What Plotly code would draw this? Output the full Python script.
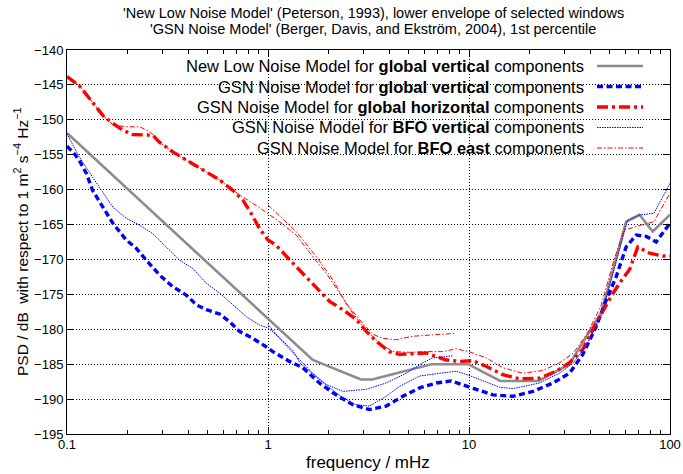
import plotly.graph_objects as go

# ---------------------------------------------------------------------------
# Data: frequency in mHz, PSD in dB rel. 1 m^2 s^-4 Hz^-1
# ---------------------------------------------------------------------------
nlnm_freq = [0.1, 1.67, 2.9, 3.3, 6.5, 9.9, 14.3, 22.2, 31.6, 45.7, 60.5, 70.5, 82.0, 100.0]
nlnm_psd = [-151.9, -184.4, -187.2, -187.2, -185.0, -185.0, -187.4, -187.4, -185.0,
            -177.5, -164.6, -163.6, -166.0, -163.6]

gsn_z_freq = [0.1, 0.107, 0.115, 0.125, 0.134, 0.151, 0.169, 0.197, 0.221, 0.248, 0.288,
              0.336, 0.392, 0.44, 0.493, 0.574, 0.643, 0.721, 0.839, 0.979, 1.057, 1.279,
              1.489, 1.803, 2.183, 2.642, 3.2, 3.87, 4.69, 5.68, 6.87, 8.15, 9.31, 10.86,
              13.15, 16.52, 20.8, 26.12, 31.62, 36.81, 42.95, 48.19, 53.95, 60.53, 67.92,
              76.21, 85.31, 100.0]
gsn_z_psd = [-153.8, -154.6, -155.8, -157.7, -160.1, -162.5, -164.8, -167.2, -168.4, -170.1,
             -172.2, -173.9, -175.1, -176.5, -177.2, -177.8, -178.9, -180.3, -181.3, -182.5,
             -183.2, -184.6, -185.5, -187.7, -189.4, -190.8, -191.5, -191.0, -189.6, -188.4,
             -187.7, -187.4, -187.9, -188.6, -189.4, -189.6, -188.9, -187.7, -186.3, -183.6,
             -179.6, -175.8, -172.5, -168.2, -166.5, -166.7, -167.5, -164.8]

gsn_h_freq = [0.1, 0.115, 0.134, 0.151, 0.169, 0.19, 0.212, 0.243, 0.267, 0.288, 0.336,
              0.406, 0.474, 0.574, 0.668, 0.75, 0.824, 0.908, 1.0, 1.1, 1.327, 1.549, 1.803,
              2.023, 2.355, 2.748, 3.083, 3.45, 4.018, 4.508, 5.248, 6.124, 6.87, 7.7, 8.97,
              10.45, 12.16, 14.72, 17.82, 22.44, 27.16, 31.62, 36.81, 42.95, 50.9, 56.1, 63.0,
              69.2, 79.1, 92.1, 100.0]
gsn_h_psd = [-143.8, -145.1, -147.5, -149.4, -150.5, -151.5, -152.1, -152.2, -152.2, -153.2,
             -154.6, -156.0, -157.2, -158.6, -160.1, -161.5, -163.4, -165.6, -167.2, -168.0,
             -170.5, -172.5, -174.6, -176.0, -177.2, -178.6, -180.3, -181.7, -183.2, -183.6,
             -183.5, -183.4, -183.9, -184.4, -184.6, -184.5, -185.3, -186.5, -187.1, -187.0,
             -186.0, -184.8, -182.9, -179.1, -175.3, -173.4, -171.4, -168.2, -169.1, -169.5,
             -169.5]

bfo_z_freq = [0.1, 0.115, 0.134, 0.151, 0.169, 0.197, 0.23, 0.267, 0.312, 0.363, 0.423,
              0.493, 0.574, 0.668, 0.78, 0.908, 1.0, 1.119, 1.327, 1.44, 1.8, 2.3, 2.73, 3.2,
              3.87, 4.5, 5.68, 7.13, 8.64, 10.0, 12.2, 14.2, 16.5, 22.4, 28.2, 33.1, 38.9,
              45.3, 52.6, 61.4, 71.5, 83.1, 100.0]
bfo_z_psd = [-152.0, -155.3, -158.2, -160.5, -162.5, -164.1, -165.1, -166.3, -168.2, -170.1,
             -171.3, -173.4, -174.8, -176.5, -178.2, -179.4, -179.8, -181.0, -183.0, -184.8,
             -187.2, -189.6, -190.8, -191.0, -189.6, -188.2, -186.7, -186.3, -186.0, -186.6,
             -187.6, -188.3, -188.5, -187.7, -186.3, -184.8, -182.0, -178.2, -171.5, -164.4,
             -163.6, -163.4, -159.1]

bfo_z2_freq = [1.0, 1.2, 1.44, 1.67, 1.95, 2.36, 3.08, 3.87, 4.87, 5.89, 6.61, 8.3]
bfo_z2_psd = [-179.3, -182.0, -184.4, -186.3, -187.9, -188.9, -188.6, -187.7, -186.3,
              -184.8, -184.1, -183.8]

bfo_e_freq = [0.1, 0.115, 0.134, 0.151, 0.169, 0.197, 0.23, 0.258, 0.278, 0.288, 0.336,
              0.406, 0.474, 0.574, 0.668, 0.75, 0.908, 1.14, 1.38, 1.67, 1.95, 2.27, 2.64,
              3.08, 3.59, 4.18, 5.06, 6.12, 7.41, 8.63, 10.0, 12.2, 14.7, 18.5, 23.3, 28.2,
              33.1, 38.9, 45.3, 52.6, 59.1, 71.5, 83.1, 100.0]
bfo_e_psd = [-143.8, -145.1, -147.5, -149.4, -150.7, -151.0, -151.0, -151.7, -152.5, -153.2,
             -154.6, -156.0, -157.2, -158.6, -160.1, -161.0, -162.6, -164.6, -166.5, -169.6,
             -172.0, -174.8, -177.7, -180.1, -182.0, -183.2, -183.3, -183.2, -183.2, -182.8,
             -183.2, -184.1, -185.5, -186.3, -185.9, -184.8, -183.4, -180.5, -176.7, -170.1,
             -165.8, -165.1, -164.6, -160.5]

bfo_e2_freq = [1.0, 1.38, 1.74, 2.1, 2.45, 2.85, 3.32, 3.72, 4.35, 5.25, 6.6, 8.47]
bfo_e2_psd = [-162.2, -166.0, -169.6, -172.9, -176.3, -178.6, -180.7, -181.3, -181.5, -181.0,
              -180.8, -180.6]

x_tick_vals = [0.1, 1, 10, 100]
x_tick_text = ["0.1", "1", "10", "100"]
x_minor_vals = [m * d for d in (0.1, 1, 10) for m in range(2, 10)]
y_tick_vals = list(range(-195, -139, 5))

legend_labels = [
    "New Low Noise Model for <b>global vertical</b> components",
    "GSN Noise Model for <b>global vertical</b> components",
    "GSN Noise Model for <b>global horizontal</b> components",
    "GSN Noise Model for <b>BFO vertical</b> components",
    "GSN Noise Model for <b>BFO east</b> components",
]

# ---------------------------------------------------------------------------
# Styles
# ---------------------------------------------------------------------------
FONT = "Liberation Sans, Arial, Helvetica, sans-serif"
GRAY, BLUE, RED = "#8c8c8c", "#0000ff", "#ff0000"
styles = [
    dict(color=GRAY, width=2.6, dash="solid"),
    dict(color=BLUE, width=3.4, dash="6px,3.5px"),
    dict(color=RED, width=3.4, dash="11px,4px,3px,4px"),
    dict(color=BLUE, width=1.0, dash="1.5px,1px"),
    dict(color=RED, width=1.0, dash="5px,2px,1.5px,2px"),
]

W, H = 683, 474
ML, MR, MT, MB = 67, 13, 50, 40
PW, PH = W - ML - MR, H - MT - MB


def px(x):
    return (x - ML) / PW


def py(y):
    return 1 - (y - MT) / PH


fig = go.Figure()

series = [
    (nlnm_freq, nlnm_psd, 0),
    (gsn_z_freq, gsn_z_psd, 1),
    (gsn_h_freq, gsn_h_psd, 2),
    (bfo_z_freq, bfo_z_psd, 3),
    (bfo_z2_freq, bfo_z2_psd, 3),
    (bfo_e_freq, bfo_e_psd, 4),
    (bfo_e2_freq, bfo_e2_psd, 4),
]
for f, p, k in series:
    fig.add_trace(go.Scatter(x=f, y=p, mode="lines", line=styles[k],
                             showlegend=False, hoverinfo="x+y"))

# Key: opaque white box under the curves but above the grid
shapes = [dict(type="rect", xref="paper", yref="paper", layer="between",
               x0=px(81), x1=px(669), y0=py(158), y1=py(52),
               fillcolor="white", line=dict(width=0))]
annotations = []
row_y = [66, 86.5, 107, 127.5, 148]
for label, st, ry in zip(legend_labels, styles, row_y):
    annotations.append(dict(xref="paper", yref="paper", x=px(586), y=py(ry),
                            text=label, showarrow=False, xanchor="right",
                            yanchor="middle", font=dict(family=FONT, size=16.5, color="black")))
    shapes.append(dict(type="line", xref="paper", yref="paper", layer="above",
                       x0=px(597), x1=px(643), y0=py(ry), y1=py(ry),
                       line=dict(color=st["color"], width=st["width"], dash=st["dash"])))

# Titles
annotations += [
    dict(xref="paper", yref="paper", x=px(373), y=py(13), showarrow=False,
         text="'New Low Noise Model' (Peterson, 1993), lower envelope of selected windows",
         font=dict(family=FONT, size=14.5, color="black"), xanchor="center", yanchor="middle"),
    dict(xref="paper", yref="paper", x=px(373), y=py(29.5), showarrow=False,
         text="'GSN Noise Model' (Berger, Davis, and Ekström, 2004), 1st percentile",
         font=dict(family=FONT, size=14.5, color="black"), xanchor="center", yanchor="middle"),
    dict(xref="paper", yref="paper", x=px(368), y=py(462), showarrow=False,
         text="frequency / mHz", font=dict(family=FONT, size=17, color="black"),
         xanchor="center", yanchor="middle"),
    dict(xref="paper", yref="paper", x=px(21), y=py(242), showarrow=False, textangle=-90,
         text="PSD / dB \u00a0with respect to 1 m<sup>2</sup> s<sup>\u22124</sup> Hz<sup>\u22121</sup>",
         font=dict(family=FONT, size=15.5, color="black"), xanchor="center", yanchor="middle"),
]

axis_common = dict(showline=True, linecolor="black", linewidth=1, mirror="allticks",
                   ticks="inside", tickcolor="black", ticklen=7, tickwidth=1,
                   gridcolor="black", griddash="1px,2px", gridwidth=1, zeroline=False,
                   automargin=False,
                   tickfont=dict(family=FONT, size=13, color="black"))

fig.update_layout(
    template="none",
    width=W, height=H, margin=dict(l=ML, r=MR, t=MT, b=MB, pad=0),
    paper_bgcolor="white", plot_bgcolor="white",
    showlegend=False, shapes=shapes, annotations=annotations,
    xaxis=dict(type="log", range=[-1, 2], tickmode="array", tickvals=x_tick_vals,
               ticktext=x_tick_text, showgrid=True, ticklabelstandoff=-2,
               minor=dict(tickmode="array", tickvals=x_minor_vals, ticks="inside",
                          ticklen=4, tickcolor="black", tickwidth=1, showgrid=False),
               **axis_common),
    yaxis=dict(range=[-195, -140], tickmode="array", tickvals=y_tick_vals,
               showgrid=True, **axis_common),
)

fig.write_html("out.html")
